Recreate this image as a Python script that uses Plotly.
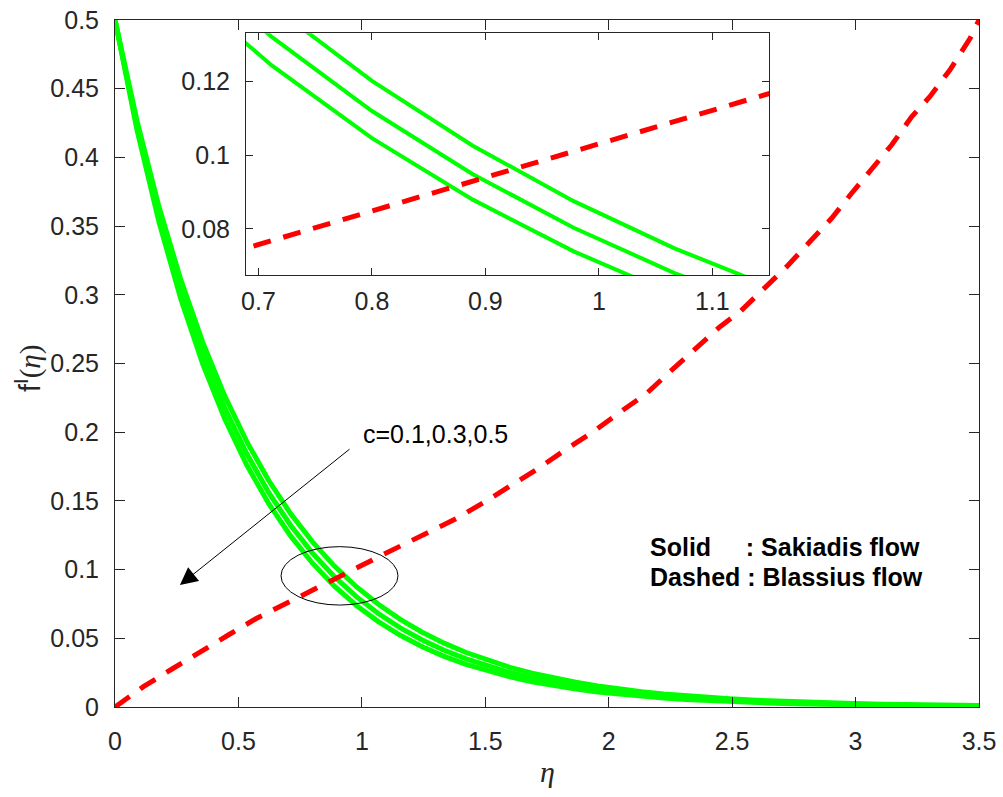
import plotly.graph_objects as go

# ---- data ----
eta = [0, 0.0889, 0.1778, 0.2667, 0.3556, 0.4444, 0.5333, 0.6222, 0.7111, 0.8,
       0.8889, 0.9778, 1.0667, 1.1556, 1.2444, 1.3333, 1.4222, 1.5111, 1.6, 1.6889,
       1.7778, 1.8667, 1.9556, 2.0444, 2.1333, 2.2222, 2.3111, 2.4, 2.4889, 2.5778,
       2.6667, 2.7556, 2.8444, 2.9333, 3.0222, 3.1111, 3.2, 3.2889, 3.3778, 3.4667, 3.5556]

sak_c05 = [0.5, 0.42024, 0.35320, 0.29686, 0.24951, 0.20970, 0.17625, 0.14814, 0.12451, 0.10464,
           0.08795, 0.07392, 0.06213, 0.05222, 0.04389, 0.03689, 0.03100, 0.02606, 0.02190, 0.01841,
           0.01547, 0.01300, 0.01093, 0.00919, 0.00772, 0.00649, 0.00545, 0.00458, 0.00385, 0.00324,
           0.00272, 0.00229, 0.00192, 0.00162, 0.00136, 0.00114, 0.00096, 0.00081, 0.00068, 0.00057, 0.00048]

sak_c03 = [0.5, 0.42343, 0.35859, 0.30367, 0.25717, 0.21779, 0.18443, 0.15619, 0.13227, 0.11201,
           0.09486, 0.08033, 0.06803, 0.05761, 0.04879, 0.04132, 0.03499, 0.02963, 0.02509, 0.02125,
           0.01800, 0.01524, 0.01291, 0.01093, 0.00926, 0.00784, 0.00664, 0.00562, 0.00476, 0.00403,
           0.00342, 0.00289, 0.00245, 0.00208, 0.00176, 0.00149, 0.00126, 0.00107, 0.00090, 0.00077, 0.00065]

sak_c01 = [0.5, 0.42676, 0.36424, 0.31088, 0.26534, 0.22647, 0.19330, 0.16498, 0.14081, 0.12018,
           0.10258, 0.08755, 0.07473, 0.06378, 0.05444, 0.04646, 0.03966, 0.03385, 0.02889, 0.02466,
           0.02104, 0.01796, 0.01533, 0.01308, 0.01117, 0.00953, 0.00814, 0.00695, 0.00593, 0.00506,
           0.00432, 0.00369, 0.00315, 0.00269, 0.00229, 0.00196, 0.00167, 0.00143, 0.00122, 0.00104, 0.00089]

eta_b = [0, 0.115, 0.236, 0.344, 0.459, 0.574, 0.695, 0.803, 0.895, 0.99, 1.069, 1.155,
         1.269, 1.384, 1.499, 1.607, 1.715, 1.823, 1.938, 2.039, 2.154, 2.248, 2.451, 2.532,
         2.626, 2.721, 2.809, 2.903, 2.984, 3.065, 3.146, 3.227, 3.30, 3.382, 3.464, 3.5]
blas = [0, 0.0148, 0.0282, 0.0402, 0.0524, 0.0646, 0.0753, 0.0852, 0.0936, 0.1022, 0.1094, 0.1172,
        0.1270, 0.1373, 0.1494, 0.1616, 0.1737, 0.187, 0.2004, 0.2137, 0.2283, 0.244, 0.2768, 0.2877,
        0.3035, 0.3205, 0.3375, 0.3557, 0.3739, 0.3908, 0.409, 0.4296, 0.444, 0.4636, 0.4867, 0.5]

x_ticks = [0, 0.5, 1, 1.5, 2, 2.5, 3, 3.5]
y_ticks = [0, 0.05, 0.1, 0.15, 0.2, 0.25, 0.3, 0.35, 0.4, 0.45, 0.5]
inset_x_ticks = [0.7, 0.8, 0.9, 1.0, 1.1]
inset_y_ticks = [0.08, 0.1, 0.12]

GREEN = "#00FF00"
RED = "#FF0000"
AXC = "#262626"
FONT = "Arial, Liberation Sans, Helvetica, sans-serif"

fig = go.Figure()

for xa, ya, w in (("x", "y", 5), ("x2", "y2", 4)):
    for ys in (sak_c05, sak_c03, sak_c01):
        fig.add_trace(go.Scatter(x=eta, y=ys, mode="lines", xaxis=xa, yaxis=ya,
                                 line=dict(color=GREEN, width=w), showlegend=False,
                                 hoverinfo="skip"))
    fig.add_trace(go.Scatter(x=eta_b, y=blas, mode="lines", xaxis=xa, yaxis=ya,
                             line=dict(color=RED, width=5, dash="18px,13px"),
                             showlegend=False, hoverinfo="skip"))

axis_common = dict(showgrid=False, zeroline=False, showline=True, linecolor=AXC,
                   linewidth=1, ticks="inside", tickcolor=AXC, mirror="ticks",
                   automargin=False,
                   tickfont=dict(family=FONT, size=25, color=AXC))

fig.update_layout(
    width=1003, height=797,
    margin=dict(l=115, r=24, t=20, b=90),
    paper_bgcolor="white", plot_bgcolor="white",
    xaxis=dict(range=[0, 3.5], tickvals=x_ticks, ticklen=10, ticklabelstandoff=12,
               domain=[0, 1], **axis_common),
    yaxis=dict(range=[0, 0.5], tickvals=y_ticks, ticklen=10, ticklabelstandoff=10,
               domain=[0, 1], **axis_common),
    xaxis2=dict(range=[0.689, 1.150], tickvals=inset_x_ticks, ticklen=7,
                ticklabelstandoff=4, anchor="y2",
                domain=[(246 - 115) / 864, (769 - 115) / 864], **axis_common),
    yaxis2=dict(range=[0.0675, 0.1331], tickvals=inset_y_ticks, ticklen=7,
                ticklabelstandoff=10, anchor="x2",
                domain=[(707 - 275) / 687, (707 - 33.3) / 687], **axis_common),
)

# ellipse around the crossing
fig.add_shape(type="circle", xref="x", yref="y", x0=0.6725, x1=1.1464, y0=0.0742, y1=0.1167,
              line=dict(color="black", width=1))

annotations = [
    # arrow
    dict(x=0.263, y=0.0888, ax=0.956, ay=0.1885, xref="x", yref="y", axref="x", ayref="y",
         showarrow=True, arrowhead=2, arrowsize=3.5, arrowwidth=1, arrowcolor="black", text=""),
    dict(x=(361 - 115) / 864, y=(707 - 434) / 687, xref="paper", yref="paper",
         xanchor="left", yanchor="middle", showarrow=False, text="c=0.1,0.3,0.5",
         font=dict(family=FONT, size=25, color="black")),
    dict(x=(648 - 115) / 864, y=(707 - 547) / 687, xref="paper", yref="paper",
         xanchor="left", yanchor="middle", showarrow=False,
         text="<b>Solid\u00a0\u00a0\u00a0\u00a0\u00a0: Sakiadis flow</b>",
         font=dict(family=FONT, size=25, color="black")),
    dict(x=(648 - 115) / 864, y=(707 - 577) / 687, xref="paper", yref="paper",
         xanchor="left", yanchor="middle", showarrow=False,
         text="<b>Dashed : Blassius flow</b>",
         font=dict(family=FONT, size=25, color="black")),
    # axis titles
    dict(x=(547 - 115) / 864, y=(707 - 771) / 687, xref="paper", yref="paper",
         xanchor="center", yanchor="middle", showarrow=False, text="<i>η</i>",
         font=dict(family="Liberation Serif, Times New Roman, serif", size=30, color=AXC)),
    dict(x=(28 - 115) / 864, y=(707 - 369) / 687, xref="paper", yref="paper",
         xanchor="center", yanchor="middle", showarrow=False, textangle=-90,
         text="f<sup>I</sup><span style='font-family:Liberation Serif'>(<i>η</i>)</span>",
         font=dict(family=FONT, size=29, color=AXC)),
]
fig.update_layout(annotations=annotations)

fig.write_html("out.html")
